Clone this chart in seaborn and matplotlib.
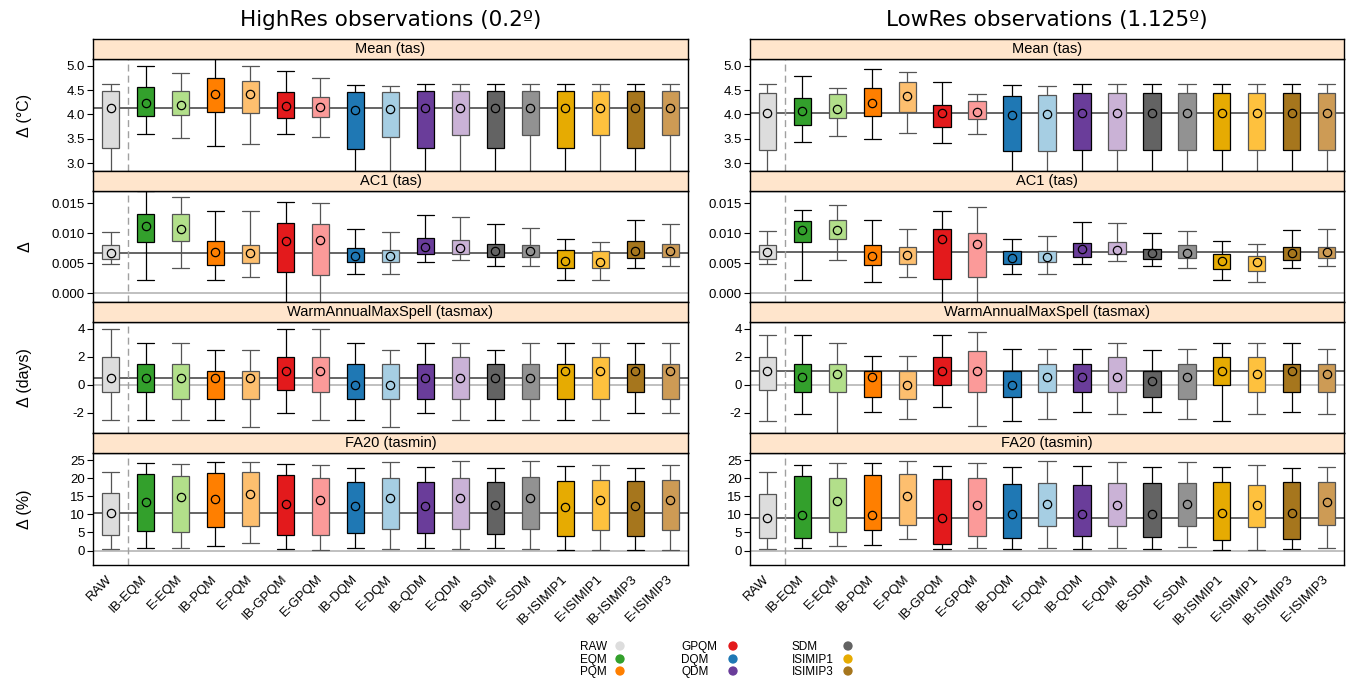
import numpy as np
import pandas as pd
import matplotlib
matplotlib.use("Agg")
import matplotlib.pyplot as plt
from matplotlib.ticker import FormatStrFormatter
import seaborn as sns

# ---- categories / colours ----
methods = ["RAW", "IB-EQM", "E-EQM", "IB-PQM", "E-PQM", "IB-GPQM", "E-GPQM",
           "IB-DQM", "E-DQM", "IB-QDM", "E-QDM", "IB-SDM", "E-SDM",
           "IB-ISIMIP1", "E-ISIMIP1", "IB-ISIMIP3", "E-ISIMIP3"]
box_colors = ["#DDDDDD", "#33A02C", "#B2DF8A", "#FF7F00", "#FDBF6F", "#E31A1C", "#FB9A99",
              "#1F78B4", "#A6CEE3", "#6A3D9A", "#CAB2D6", "#636363", "#929292",
              "#E6AB02", "#FEC13E", "#A6761D", "#CD9B55"]
families = ["RAW", "EQM", "PQM", "GPQM", "DQM", "QDM", "SDM", "ISIMIP1", "ISIMIP3"]
family_colors = ["#DDDDDD", "#33A02C", "#FF7F00", "#E31A1C", "#1F78B4", "#6A3D9A",
                 "#636363", "#E6AB02", "#A6761D"]

# ---- HighRes (0.2º) ----
hr_mean_hi = [4.62, 4.99, 4.85, 5.20, 5.00, 4.90, 4.75, 4.60, 4.59, 4.62, 4.62, 4.62, 4.62, 4.62, 4.62, 4.62, 4.62]
hr_mean_q3 = [4.48, 4.56, 4.48, 4.74, 4.69, 4.46, 4.35, 4.46, 4.46, 4.48, 4.48, 4.48, 4.48, 4.48, 4.48, 4.48, 4.48]
hr_mean_mid = [4.13, 4.23, 4.20, 4.42, 4.42, 4.17, 4.15, 4.10, 4.12, 4.13, 4.13, 4.13, 4.13, 4.13, 4.13, 4.13, 4.13]
hr_mean_q1 = [3.31, 3.97, 3.99, 4.06, 4.03, 3.93, 3.95, 3.29, 3.53, 3.31, 3.57, 3.31, 3.57, 3.31, 3.57, 3.31, 3.57]
hr_mean_lo = [2.75, 3.59, 3.52, 3.36, 3.39, 3.59, 3.54, 2.75, 2.75, 2.75, 2.75, 2.75, 2.75, 2.75, 2.75, 2.75, 2.75]

hr_ac1_hi = [0.0102, 0.0170, 0.0161, 0.0138, 0.0138, 0.0152, 0.0150, 0.0107, 0.0102, 0.0131, 0.0127, 0.0115, 0.0109, 0.0091, 0.0086, 0.0123, 0.0115]
hr_ac1_q3 = [0.0080, 0.0132, 0.0133, 0.0088, 0.0080, 0.0117, 0.0115, 0.0076, 0.0073, 0.0092, 0.0089, 0.0083, 0.0081, 0.0072, 0.0070, 0.0087, 0.0083]
hr_ac1_mid = [0.0068, 0.0112, 0.0108, 0.0069, 0.0067, 0.0088, 0.0089, 0.0063, 0.0062, 0.0078, 0.0075, 0.0071, 0.0070, 0.0054, 0.0053, 0.0070, 0.0071]
hr_ac1_q1 = [0.0057, 0.0085, 0.0088, 0.0048, 0.0051, 0.0036, 0.0030, 0.0052, 0.0053, 0.0066, 0.0066, 0.0060, 0.0061, 0.0042, 0.0042, 0.0059, 0.0061]
hr_ac1_lo = [0.0049, 0.0023, 0.0043, 0.0023, 0.0027, -0.0020, -0.0020, 0.0032, 0.0032, 0.0052, 0.0056, 0.0046, 0.0046, 0.0023, 0.0023, 0.0043, 0.0046]

hr_spell_hi = [4, 3, 3, 2.5, 2.5, 4, 4, 3, 2.5, 3, 3, 2.5, 3, 3, 3, 3, 3]
hr_spell_q3 = [2, 1.5, 1.5, 1, 1, 2, 2, 1.5, 1.5, 1.5, 2, 1.5, 1.5, 1.5, 2, 1.5, 1.5]
hr_spell_mid = [0.5, 0.5, 0.5, 0.5, 0.5, 1, 1, 0, 0, 0.5, 0.5, 0.5, 0.5, 1, 1, 1, 1]
hr_spell_q1 = [-0.5, -0.5, -1, -1, -1, -0.4, -0.5, -1, -1, -1, -1, -1, -1, -1, -1, -0.5, -1]
hr_spell_lo = [-2.5, -2.5, -2.5, -2.5, -3, -2, -2.5, -2.5, -3, -2, -2.5, -2.5, -2.5, -2.5, -2.5, -2, -2]

hr_fa20_hi = [21.8, 24.2, 23.9, 24.4, 24.6, 24.0, 23.6, 22.9, 24.6, 23.0, 24.9, 22.9, 24.8, 23.3, 23.8, 22.7, 23.8]
hr_fa20_q3 = [15.8, 21.3, 20.6, 21.4, 21.6, 20.8, 20.2, 18.9, 20.0, 18.9, 20.0, 18.9, 20.3, 19.3, 19.4, 19.3, 19.6]
hr_fa20_mid = [10.4, 13.5, 14.7, 14.3, 15.7, 13.0, 13.9, 12.4, 14.5, 12.4, 14.5, 12.5, 14.5, 12.1, 13.9, 12.4, 13.9]
hr_fa20_q1 = [4.2, 5.4, 5.2, 6.4, 6.8, 4.2, 4.2, 4.8, 5.9, 4.8, 5.9, 4.6, 5.9, 4.0, 5.6, 4.0, 5.8]
hr_fa20_lo = [0.4, 0.8, 0.6, 1.3, 2.2, 0.4, 0.1, 0.6, 0.4, 0.6, 0.4, 0.6, 0.5, 0.1, 0.1, 0.1, 0.1]

# ---- LowRes (1.125º) ----
lr_mean_hi = [4.62, 4.78, 4.54, 4.93, 4.87, 4.67, 4.42, 4.60, 4.59, 4.62, 4.62, 4.62, 4.62, 4.62, 4.62, 4.62, 4.62]
lr_mean_q3 = [4.43, 4.34, 4.41, 4.55, 4.66, 4.20, 4.28, 4.38, 4.39, 4.43, 4.43, 4.43, 4.43, 4.43, 4.43, 4.43, 4.43]
lr_mean_mid = [4.03, 4.07, 4.12, 4.23, 4.38, 4.03, 4.05, 3.99, 4.00, 4.03, 4.03, 4.03, 4.03, 4.03, 4.03, 4.03, 4.03]
lr_mean_q1 = [3.28, 3.78, 3.92, 3.96, 4.06, 3.75, 3.91, 3.25, 3.25, 3.28, 3.28, 3.28, 3.28, 3.28, 3.28, 3.28, 3.28]
lr_mean_lo = [2.75, 3.44, 3.55, 3.50, 3.63, 3.41, 3.60, 2.75, 2.75, 2.75, 2.75, 2.75, 2.75, 2.75, 2.75, 2.75, 2.75]

lr_ac1_hi = [0.0104, 0.0139, 0.0148, 0.0122, 0.0108, 0.0138, 0.0144, 0.0091, 0.0096, 0.0119, 0.0118, 0.0100, 0.0104, 0.0088, 0.0083, 0.0106, 0.0108]
lr_ac1_q3 = [0.0080, 0.0121, 0.0123, 0.0080, 0.0078, 0.0108, 0.0101, 0.0070, 0.0070, 0.0084, 0.0085, 0.0074, 0.0080, 0.0066, 0.0063, 0.0077, 0.0078]
lr_ac1_mid = [0.0069, 0.0105, 0.0105, 0.0063, 0.0064, 0.0090, 0.0083, 0.0059, 0.0061, 0.0074, 0.0073, 0.0067, 0.0068, 0.0054, 0.0052, 0.0067, 0.0069]
lr_ac1_q1 = [0.0057, 0.0085, 0.0091, 0.0047, 0.0049, 0.0024, 0.0027, 0.0049, 0.0053, 0.0061, 0.0065, 0.0058, 0.0059, 0.0040, 0.0038, 0.0056, 0.0059]
lr_ac1_lo = [0.0049, 0.0022, 0.0055, 0.0019, 0.0027, -0.0020, -0.0020, 0.0033, 0.0032, 0.0049, 0.0054, 0.0045, 0.0042, 0.0023, 0.0019, 0.0042, 0.0045]

lr_spell_hi = [3.57, 3.57, 3.0, 2.07, 2.07, 3.57, 3.74, 2.57, 2.57, 2.57, 3.0, 2.48, 2.57, 3.0, 3.0, 3.0, 2.57]
lr_spell_q3 = [2, 1.5, 1.5, 1.0, 1.0, 2, 2.38, 1.0, 1.5, 1.5, 2, 1.0, 1.5, 2, 2, 1.5, 1.5]
lr_spell_mid = [1.0, 0.52, 0.74, 0.52, 0.0, 1.0, 1.0, 0.0, 0.52, 0.52, 0.52, 0.29, 0.52, 1.0, 0.74, 1.0, 0.74]
lr_spell_q1 = [-0.38, -0.5, -0.5, -0.88, -1.0, 0.0, -0.5, -0.88, -0.5, -0.5, -0.5, -0.88, -1.0, 0.0, -0.5, -0.5, -0.5]
lr_spell_lo = [-2.57, -2.07, -3.6, -1.98, -2.48, -1.57, -2.98, -2.57, -2.48, -1.98, -2.07, -1.98, -2.48, -2.57, -2.07, -1.98, -2.07]

lr_fa20_hi = [21.8, 23.7, 24.3, 24.1, 24.7, 23.5, 24.3, 23.2, 24.7, 23.5, 24.6, 23.2, 24.4, 23.2, 23.6, 22.7, 23.2]
lr_fa20_q3 = [15.6, 20.5, 20.2, 20.8, 21.3, 19.7, 20.0, 18.4, 18.6, 18.0, 18.6, 18.6, 18.6, 18.9, 18.0, 18.9, 18.9]
lr_fa20_mid = [8.9, 9.8, 13.6, 9.7, 15.2, 9.1, 12.6, 10.1, 13.0, 10.1, 12.7, 10.1, 13.0, 10.5, 12.6, 10.4, 13.3]
lr_fa20_q1 = [3.4, 3.4, 5.0, 5.6, 7.2, 1.9, 3.9, 3.6, 6.9, 3.9, 6.7, 3.7, 6.7, 2.8, 6.6, 3.1, 7.0]
lr_fa20_lo = [0.4, 0.6, 1.2, 1.6, 3.3, 0.4, 0.7, 0.4, 0.8, 0.4, 0.8, 0.4, 0.9, 0.1, 0.1, 0.3, 0.6]

col_titles = ["HighRes observations (0.2º)", "LowRes observations (1.125º)"]
strip_titles = ["Mean (tas)", "AC1 (tas)", "WarmAnnualMaxSpell (tasmax)", "FA20 (tasmin)"]
y_labels = ["Δ (°C)", "Δ", "Δ (days)", "Δ (%)"]
y_ticks = [[3.0, 3.5, 4.0, 4.5, 5.0], [0.0, 0.005, 0.010, 0.015], [-2, 0, 2, 4], [0, 5, 10, 15, 20, 25]]
y_fmts = ["%.1f", "%.3f", "%d", "%d"]
y_lims = [(2.85, 5.13), (-0.00145, 0.0171), (-3.47, 4.48), (-3.88, 26.9)]

hr_stats = [
    (hr_mean_lo, hr_mean_q1, hr_mean_mid, hr_mean_q3, hr_mean_hi),
    (hr_ac1_lo, hr_ac1_q1, hr_ac1_mid, hr_ac1_q3, hr_ac1_hi),
    (hr_spell_lo, hr_spell_q1, hr_spell_mid, hr_spell_q3, hr_spell_hi),
    (hr_fa20_lo, hr_fa20_q1, hr_fa20_mid, hr_fa20_q3, hr_fa20_hi),
]
lr_stats = [
    (lr_mean_lo, lr_mean_q1, lr_mean_mid, lr_mean_q3, lr_mean_hi),
    (lr_ac1_lo, lr_ac1_q1, lr_ac1_mid, lr_ac1_q3, lr_ac1_hi),
    (lr_spell_lo, lr_spell_q1, lr_spell_mid, lr_spell_q3, lr_spell_hi),
    (lr_fa20_lo, lr_fa20_q1, lr_fa20_mid, lr_fa20_q3, lr_fa20_hi),
]


def long_form(lo, q1, mid, q3, hi):
    # five values per method -> quartiles fall exactly on q1 / mid / q3
    rows = []
    for m, a, b, c, d, e in zip(methods, lo, q1, mid, q3, hi):
        for v in (a, b, c, d, e):
            rows.append((m, v))
    return pd.DataFrame(rows, columns=["method", "value"])


sns.set_theme(style="ticks")
plt.rcParams["font.family"] = ["Liberation Sans", "DejaVu Sans"]
plt.rcParams["axes.unicode_minus"] = False
for key in ("text.color", "axes.labelcolor", "xtick.color", "ytick.color"):
    plt.rcParams[key] = "black"

W, H = 1347, 680
fig = plt.figure(figsize=(W / 100, H / 100), dpi=100)

palette = dict(zip(methods, box_colors))
ib_methods = [m for m in methods if m.startswith("IB-")]
other_methods = [m for m in methods if not m.startswith("IB-")]
xpos = np.arange(len(methods))

col_x = [(93, 688), (750, 1344)]
panel_top = [59.3, 190.7, 322.0, 453.3]
panel_h = 111.3
strip_h = 20.2


def fig_rect(x0, x1, ytop, h):
    return [x0 / W, 1 - (ytop + h) / H, (x1 - x0) / W, h / H]


for c, (stats_col, title) in enumerate(zip([hr_stats, lr_stats], col_titles)):
    x0, x1 = col_x[c]
    fig.text((x0 + x1) / 2 / W, 1 - 20 / H, title, ha="center", va="center",
             fontsize=15.5, family="DejaVu Sans")
    for r in range(4):
        stats = stats_col[r]
        ax = fig.add_axes(fig_rect(x0, x1, panel_top[r], panel_h))
        df = long_form(*stats)

        ax.axhline(0, color="#B5B5B5", lw=1.2, zorder=0.5)
        ax.axhline(stats[2][0], color="#3A3A3A", lw=1.1, zorder=0.6)
        ax.axvline(0.5, color="#A0A0A0", lw=1.0, ls=(0, (5, 3)), zorder=0.7)

        for group, edge in ((ib_methods, "black"), (other_methods, "#555555")):
            sub = df[df["method"].isin(group)]
            sns.boxplot(data=sub, x="method", y="value", hue="method", order=methods,
                        palette=palette, saturation=1, whis=(0, 100), width=0.5,
                        linecolor=edge, linewidth=0.9, showfliers=False, legend=False,
                        ax=ax, capwidths=0.5)
        for cont in ax.containers:
            for med in getattr(cont, "medians", []):
                med.set_visible(False)

        ax.plot(xpos, stats[2], ls="none", marker="o", mfc="none", mec="black",
                ms=6, mew=0.9, zorder=5)

        ax.set_xlim(-0.5, len(methods) - 0.5)
        ax.set_ylim(*y_lims[r])
        ax.set_yticks(y_ticks[r])
        ax.yaxis.set_major_formatter(FormatStrFormatter(y_fmts[r]))
        ax.set_xlabel("")
        ax.set_ylabel("")
        for sp in ax.spines.values():
            sp.set_visible(True)
            sp.set_color("black")
            sp.set_linewidth(1.0)
        ax.tick_params(axis="y", direction="out", length=4, width=0.8, labelsize=9.5,
                       pad=2, colors="black")
        ax.tick_params(axis="x", length=0)
        if r < 3:
            ax.tick_params(axis="x", labelbottom=False)
        else:
            ax.set_xticks(xpos)
            ax.set_xticklabels(methods, rotation=45, ha="right", va="center",
                               rotation_mode="anchor", fontsize=9.5)
            ax.tick_params(axis="x", pad=9)

        # strip on top of the panel
        sax = fig.add_axes(fig_rect(x0, x1, panel_top[r] - strip_h, strip_h))
        sax.set_facecolor("#FFE5CC")
        sax.set_xticks([])
        sax.set_yticks([])
        for sp in sax.spines.values():
            sp.set_visible(True)
            sp.set_color("black")
            sp.set_linewidth(1.0)
        sax.text(0.5, 0.5, strip_titles[r], ha="center", va="center",
                 fontsize=10.5, transform=sax.transAxes)

        if c == 0:
            fig.text(25 / W, 1 - (panel_top[r] + panel_h / 2) / H, y_labels[r],
                     rotation=90, ha="center", va="center", fontsize=11.5)

# legend (text then coloured dot, three columns)
lax = fig.add_axes([0, 0, 1, 1])
lax.set_xlim(0, W)
lax.set_ylim(H, 0)
lax.axis("off")
leg_text_x = [580, 681, 792]
leg_dot_x = [620, 733, 848]
leg_row_y = [647, 660, 672]
for i, (fam, col) in enumerate(zip(families, family_colors)):
    cc, rr = divmod(i, 3)
    lax.text(leg_text_x[cc], leg_row_y[rr], fam, ha="left", va="center", fontsize=8.5)
    lax.scatter([leg_dot_x[cc]], [leg_row_y[rr] - 1], s=45, color=col, edgecolor="none")

fig.savefig("out.png", dpi=100)
